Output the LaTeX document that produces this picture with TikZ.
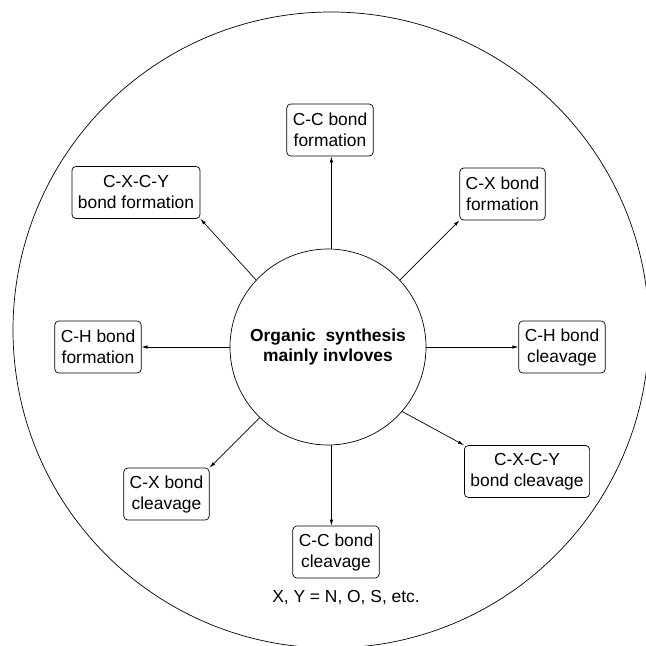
\documentclass[tikz,border=0pt]{standalone}
\usepackage{fontspec}
\setmainfont{Liberation Sans}
\usepackage{tikz}
\usetikzlibrary{arrows.meta,positioning}
\tikzset{
  box/.style={rectangle, draw, rounded corners=4pt, minimum height=52pt,
              inner xsep=6pt, align=center},
  core/.style={circle, draw, minimum size=196pt, inner sep=0pt, align=center,
               font=\fontsize{17.4}{20}\selectfont\bfseries},
  arr/.style={-{Latex[length=6pt,width=3.5pt]}, line width=0.7pt}
}
\begin{document}
\begin{tikzpicture}[x=1pt, y=-1pt, line width=0.7pt,
    font=\fontsize{17.4}{21}\selectfont]
  \useasboundingbox (0,0) rectangle (646,646);
  \node[circle, draw, minimum size=636pt, inner sep=0pt] (outer) at (331,330) {};
  \node[core] (c) at (328,347) {Organic\ \ synthesis\\mainly invloves};
  \node[box] (ccf) at (330,130) {C-C bond\\formation};
  \node[box] (xcyf) at (136,192.5) {C-X-C-Y\\bond formation};
  \node[box] (xf) at (502.5,194) {C-X bond\\formation};
  \node[box] (chf) at (98,347) {C-H bond\\formation};
  \node[box] (chc) at (562,347) {C-H bond\\cleavage};
  \node[box] (xc) at (166.5,494) {C-X bond\\cleavage};
  \node[box] (ccc) at (336,552) {C-C bond\\cleavage};
  \node[box] (xcyc) at (527,471.5) {C-X-C-Y\\bond cleavage};
  \node (note) at (346,598) {X, Y = N, O, S, etc.};
  \draw[arr] (c.88) -- (c.88 |- ccf.south);
  \draw[arr] (c.137) -- (xcyf.south east);
  \draw[arr] (c.43) -- (xf.south west);
  \draw[arr] (c.west) -- (chf.east);
  \draw[arr] (c.east) -- (chc.west);
  \draw[arr] (c.226) -- (xc.north east);
  \draw[arr] (c.-88) -- (c.-88 |- ccc.north);
  \draw[arr] (c.-41) -- (xcyc.north west);
\end{tikzpicture}
\end{document}
